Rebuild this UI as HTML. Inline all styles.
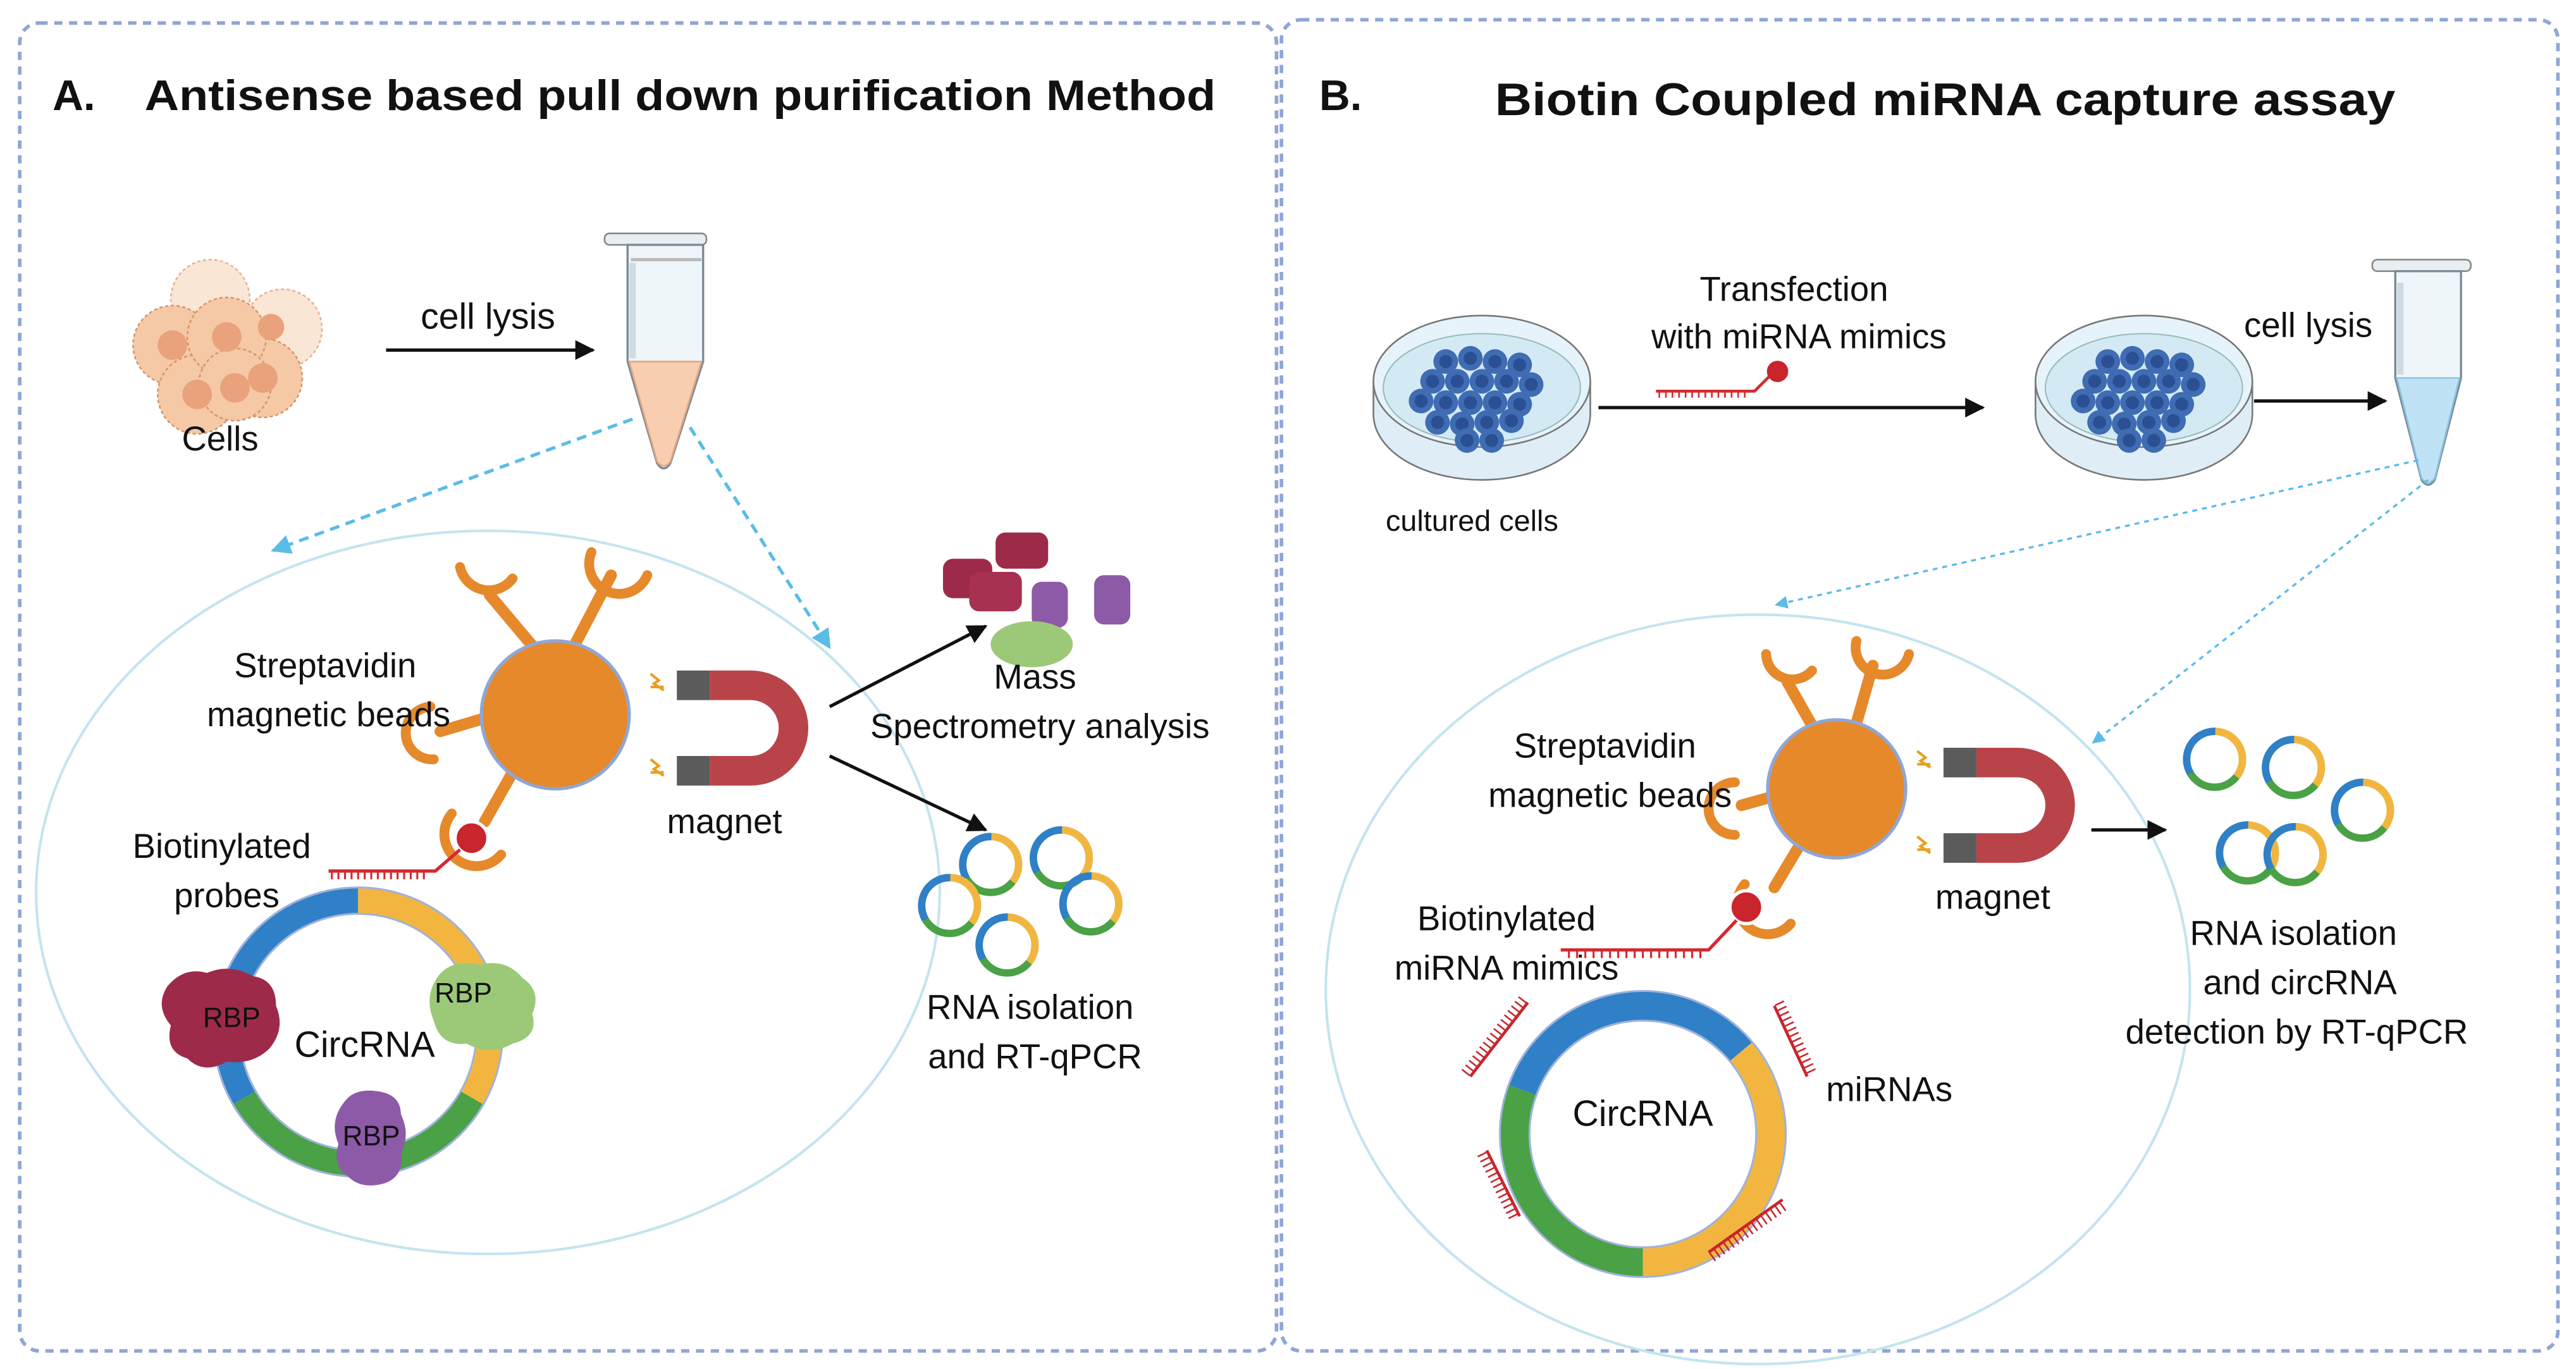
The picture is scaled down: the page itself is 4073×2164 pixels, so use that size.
<!DOCTYPE html>
<html><head><meta charset="utf-8"><style>
html,body{margin:0;padding:0;background:#fff;width:4073px;height:2164px;overflow:hidden}
svg{display:block}
text{font-family:"Liberation Sans",sans-serif;fill:#111}
</style></head><body>
<svg width="4073" height="2164" viewBox="0 0 1568 833" preserveAspectRatio="none" xmlns="http://www.w3.org/2000/svg">
<defs>
<marker id="ah" viewBox="0 0 10 10" refX="9" refY="5" markerWidth="6" markerHeight="6" orient="auto"><path d="M0,0 L10,5 L0,10 z" fill="#111"/></marker>
<marker id="ab" viewBox="0 0 10 10" refX="9" refY="5" markerWidth="6" markerHeight="6" orient="auto"><path d="M0,0 L10,5 L0,10 z" fill="#5bbce8"/></marker>
<g id="ring">
<circle r="17" fill="none" stroke="#4aa146" stroke-width="4.5"/>
<circle r="17" fill="none" stroke="#f2b640" stroke-width="4.5" stroke-dasharray="38 200" transform="rotate(-90)"/>
<circle r="17" fill="none" stroke="#2f80c6" stroke-width="4.5" stroke-dasharray="36 200" transform="rotate(150)"/>
</g>
<g id="mag">
<path d="M20,0 H45 A35,35 0 0 1 45,70 H20 V52 H45 A17,17 0 0 0 45,18 H20 Z" fill="#b8444a"/>
<rect x="0" y="0" width="20" height="18" fill="#5b5b5b"/>
<rect x="0" y="52" width="20" height="18" fill="#5b5b5b"/>
<path d="M-16,2 l5,4 l-3,2 l6,4 M-16,10 l8,0" stroke="#e8a020" stroke-width="1.6" fill="none"/>
<path d="M-16,54 l5,4 l-3,2 l6,4 M-16,62 l8,0" stroke="#e8a020" stroke-width="1.6" fill="none"/>
</g>
<g id="cell"><circle r="7.5" fill="#3f6cb3"/><circle r="4" fill="#2b4f93"/></g>
</defs>

<rect x="12" y="14" width="765" height="808" rx="12" fill="none" stroke="#8fa6d6" stroke-width="2.2" stroke-dasharray="5 4"/>
<rect x="780" y="12" width="777" height="810" rx="12" fill="none" stroke="#8fa6d6" stroke-width="2.2" stroke-dasharray="5 4"/>

<text x="32" y="67" font-size="26" font-weight="bold">A.</text>
<text x="88" y="67" font-size="26" font-weight="bold" textLength="652" lengthAdjust="spacingAndGlyphs">Antisense based pull down purification Method</text>
<text x="803" y="67" font-size="26" font-weight="bold">B.</text>
<text x="910" y="70" font-size="28" font-weight="bold" textLength="548" lengthAdjust="spacingAndGlyphs">Biotin Coupled miRNA capture assay</text>

<!-- ===== Panel A ===== -->
<g stroke="#d9956a" stroke-width="1" stroke-dasharray="2 1.5">
<circle cx="128" cy="182" r="24" fill="#f8dcc4" opacity=".7"/>
<circle cx="172" cy="200" r="24" fill="#f8dcc4" opacity=".7"/>
<circle cx="105" cy="210" r="24" fill="#f5c9a6"/>
<circle cx="160" cy="230" r="24" fill="#f5c9a6"/>
<circle cx="120" cy="240" r="24" fill="#f5c9a6"/>
<circle cx="138" cy="205" r="24" fill="#f5c9a6"/>
<circle cx="143" cy="234" r="22" fill="#f5c9a6"/>
</g>
<g fill="#e9a27c"><circle cx="105" cy="210" r="9"/><circle cx="160" cy="230" r="9"/><circle cx="120" cy="240" r="9"/><circle cx="138" cy="205" r="9"/><circle cx="143" cy="236" r="9"/><circle cx="165" cy="199" r="8"/></g>
<text x="134" y="274" font-size="21" text-anchor="middle">Cells</text>
<text x="297" y="200" font-size="22" text-anchor="middle">cell lysis</text>
<line x1="235" y1="213" x2="361" y2="213" stroke="#111" stroke-width="2" marker-end="url(#ah)"/>
<rect x="368" y="142" width="62" height="7" rx="3" fill="#e8eef2" stroke="#888"/>
<path d="M382,149 H428 V220 L408,282 Q404,288 400,282 L382,220 Z" fill="#eef6fa" stroke="#7a8a95" stroke-width="1.3"/>
<path d="M383,220 H427 L408,281 Q404,286 400,281 Z" fill="#f8cdb0" stroke="#e0a884"/>
<line x1="384" y1="158" x2="427" y2="158" stroke="#bbb" stroke-width="2"/>
<line x1="385" y1="160" x2="385" y2="218" stroke="#cfdbe3" stroke-width="4"/>
<line x1="385" y1="255" x2="166" y2="335" stroke="#5bbce8" stroke-width="2" stroke-dasharray="6 4" marker-end="url(#ab)"/>
<line x1="420" y1="260" x2="505" y2="394" stroke="#5bbce8" stroke-width="2" stroke-dasharray="6 4" marker-end="url(#ab)"/>
<ellipse cx="297" cy="543" rx="275" ry="220" fill="none" stroke="#c3e4ef" stroke-width="1.6"/>
<g stroke="#e5892b" stroke-width="7" stroke-linecap="round" fill="none">
<line x1="330" y1="400" x2="298" y2="362"/>
<line x1="350" y1="392" x2="372" y2="350"/>
<line x1="295" y1="437" x2="268" y2="445"/>
<line x1="312" y1="470" x2="295" y2="500"/>
</g>
<g fill="none" stroke="#e5892b" stroke-width="6" stroke-linecap="round">
<path d="M280,345 A18,18 0 0 0 312,352"/>
<path d="M360,336 A18,18 0 0 0 394,350"/>
<path d="M262,430 A15,15 0 0 0 264,462"/>
<path d="M275,495 A18,18 0 0 0 305,520"/>
</g>
<circle cx="338" cy="435" r="45" fill="#e5892b" stroke="#8fa6d6" stroke-width="2"/>
<text x="198" y="412" font-size="21" text-anchor="middle">Streptavidin</text>
<text x="200" y="442" font-size="21" text-anchor="middle">magnetic beads</text>
<use href="#mag" x="412" y="408"/>
<text x="441" y="507" font-size="21" text-anchor="middle">magnet</text>
<circle cx="287" cy="510" r="10" fill="#c9252c" stroke="#fff" stroke-width="2"/>
<path d="M280,517 L265,530 H200" stroke="#d42a30" stroke-width="2" fill="none"/>
<path d="M202,530 v5 M206,530 v5 M210,530 v5 M214,530 v5 M218,530 v5 M222,530 v5 M226,530 v5 M230,530 v5 M234,530 v5 M238,530 v5 M242,530 v5 M246,530 v5 M250,530 v5 M254,530 v5 M258,530 v5" stroke="#d42a30" stroke-width="1.2"/>
<text x="135" y="522" font-size="21" text-anchor="middle">Biotinylated</text>
<text x="138" y="552" font-size="21" text-anchor="middle">probes</text>
<g fill="none" stroke-width="16">
<path d="M148.7,668 A80,80 0 0 1 218,548" stroke="#2f80c6"/>
<path d="M218,548 A80,80 0 0 1 287.3,668" stroke="#f2b640"/>
<path d="M287.3,668 A80,80 0 0 1 148.7,668" stroke="#4aa146"/>
</g>
<circle cx="218" cy="628" r="88" fill="none" stroke="#9fb2dc" stroke-width="1.2"/>
<circle cx="218" cy="628" r="72" fill="none" stroke="#9fb2dc" stroke-width="1.2"/>
<path d="M102,600 q10,-12 24,-8 q14,-6 28,2 q14,2 14,18 q6,14 -4,26 q-10,10 -26,8 q-14,8 -24,-2 q-14,-4 -10,-20 q-10,-12 -2,-24 z" fill="#9e2a4a"/>
<text x="141" y="625" font-size="17" text-anchor="middle">RBP</text>
<path d="M266,595 q8,-12 26,-8 q16,-4 26,8 q12,8 6,22 q4,14 -12,18 q-14,8 -28,0 q-16,2 -20,-14 q-6,-14 2,-26 z" fill="#9cc978"/>
<text x="282" y="610" font-size="17" text-anchor="middle">RBP</text>
<path d="M210,670 q6,-8 20,-6 q14,2 14,14 q6,12 0,24 q2,14 -10,18 q-14,4 -22,-4 q-10,-6 -6,-20 q-6,-14 4,-26 z" fill="#8d5aa8"/>
<text x="226" y="697" font-size="17" text-anchor="middle">RBP</text>
<text x="222" y="643" font-size="22" text-anchor="middle">CircRNA</text>
<line x1="505" y1="430" x2="600" y2="381" stroke="#111" stroke-width="2" marker-end="url(#ah)"/>
<line x1="505" y1="460" x2="600" y2="505" stroke="#111" stroke-width="2" marker-end="url(#ah)"/>
<rect x="606" y="324" width="32" height="22" rx="6" fill="#9e2a4a"/>
<rect x="574" y="340" width="30" height="24" rx="6" fill="#9e2a4a"/>
<rect x="590" y="348" width="32" height="24" rx="6" fill="#a83050"/>
<rect x="628" y="354" width="22" height="28" rx="6" fill="#8d5aa8"/>
<rect x="666" y="350" width="22" height="30" rx="6" fill="#8d5aa8"/>
<ellipse cx="628" cy="392" rx="25" ry="14" fill="#9cc978"/>
<text x="630" y="419" font-size="21" text-anchor="middle">Mass</text>
<text x="633" y="449" font-size="21" text-anchor="middle">Spectrometry analysis</text>
<use href="#ring" x="603" y="526"/><use href="#ring" x="646" y="522"/>
<use href="#ring" x="578" y="551"/><use href="#ring" x="664" y="550"/><use href="#ring" x="613" y="575"/>
<text x="627" y="620" font-size="21" text-anchor="middle">RNA isolation</text>
<text x="630" y="650" font-size="21" text-anchor="middle">and RT-qPCR</text>

<!-- ===== Panel B ===== -->
<g id="dish">
<ellipse cx="902" cy="252" rx="66" ry="40" fill="#dfeef6" stroke="#777" stroke-width="1"/>
<rect x="836" y="232" width="132" height="20" fill="#dfeef6"/>
<line x1="836" y1="232" x2="836" y2="252" stroke="#777"/><line x1="968" y1="232" x2="968" y2="252" stroke="#777"/>
<ellipse cx="902" cy="232" rx="66" ry="40" fill="#e6f3fa" stroke="#777" stroke-width="1"/>
<ellipse cx="902" cy="236" rx="60" ry="33" fill="#d3eaf5" stroke="#9bb" stroke-width=".8"/>
<g>
<use href="#cell" x="880" y="220"/><use href="#cell" x="895" y="218"/><use href="#cell" x="910" y="220"/><use href="#cell" x="925" y="222"/>
<use href="#cell" x="872" y="232"/><use href="#cell" x="887" y="232"/><use href="#cell" x="902" y="232"/><use href="#cell" x="917" y="232"/><use href="#cell" x="932" y="234"/>
<use href="#cell" x="865" y="244"/><use href="#cell" x="880" y="245"/><use href="#cell" x="895" y="245"/><use href="#cell" x="910" y="245"/><use href="#cell" x="925" y="246"/>
<use href="#cell" x="875" y="257"/><use href="#cell" x="890" y="258"/><use href="#cell" x="905" y="257"/><use href="#cell" x="920" y="256"/>
<use href="#cell" x="893" y="268"/><use href="#cell" x="908" y="268"/>
</g>
</g>
<use href="#dish" x="403" y="0"/>
<text x="896" y="323" font-size="18" text-anchor="middle">cultured cells</text>
<text x="1092" y="183" font-size="21" text-anchor="middle">Transfection</text>
<text x="1095" y="212" font-size="21" text-anchor="middle">with miRNA mimics</text>
<path d="M1008,238 H1068 L1078,228" stroke="#d42a30" stroke-width="1.8" fill="none"/>
<path d="M1010,238 v4 M1014,238 v4 M1018,238 v4 M1022,238 v4 M1026,238 v4 M1030,238 v4 M1034,238 v4 M1038,238 v4 M1042,238 v4 M1046,238 v4 M1050,238 v4 M1054,238 v4 M1058,238 v4 M1062,238 v4" stroke="#d42a30" stroke-width="1"/>
<circle cx="1082" cy="226" r="6.5" fill="#c9252c"/>
<line x1="973" y1="248" x2="1207" y2="248" stroke="#111" stroke-width="2" marker-end="url(#ah)"/>
<text x="1405" y="205" font-size="21" text-anchor="middle">cell lysis</text>
<line x1="1372" y1="244" x2="1452" y2="244" stroke="#111" stroke-width="2" marker-end="url(#ah)"/>
<rect x="1444" y="158" width="60" height="7" rx="3" fill="#e8eef2" stroke="#888"/>
<path d="M1458,165 H1498 V230 L1482,292 Q1478,298 1474,292 L1458,230 Z" fill="#eef6fa" stroke="#7a8a95" stroke-width="1.3"/>
<path d="M1459,230 H1497 L1482,291 Q1478,296 1474,291 Z" fill="#bfe3f5" stroke="#8cc6e4"/>
<line x1="1461" y1="172" x2="1461" y2="228" stroke="#cfdbe3" stroke-width="4"/>
<line x1="1472" y1="280" x2="1081" y2="368" stroke="#5bbce8" stroke-width="1.3" stroke-dasharray="3 3" marker-end="url(#ab)"/>
<line x1="1478" y1="292" x2="1274" y2="452" stroke="#5bbce8" stroke-width="1.3" stroke-dasharray="3 3" marker-end="url(#ab)"/>
<ellipse cx="1070" cy="602" rx="263" ry="228" fill="none" stroke="#c3e4ef" stroke-width="1.6"/>
<g stroke="#e5892b" stroke-width="7" stroke-linecap="round" fill="none">
<line x1="1105" y1="445" x2="1088" y2="415"/>
<line x1="1130" y1="440" x2="1140" y2="405"/>
<line x1="1078" y1="485" x2="1060" y2="490"/>
<line x1="1095" y1="515" x2="1080" y2="540"/>
</g>
<g fill="none" stroke="#e5892b" stroke-width="6" stroke-linecap="round">
<path d="M1075,398 A16,16 0 0 0 1103,408"/>
<path d="M1130,390 A16,16 0 0 0 1162,398"/>
<path d="M1056,476 A14,14 0 0 0 1056,508"/>
<path d="M1062,538 A16,16 0 0 0 1090,562"/>
</g>
<circle cx="1118" cy="480" r="42" fill="#e5892b" stroke="#8fa6d6" stroke-width="2"/>
<text x="977" y="461" font-size="21" text-anchor="middle">Streptavidin</text>
<text x="980" y="491" font-size="21" text-anchor="middle">magnetic beads</text>
<use href="#mag" x="1183" y="455"/>
<text x="1213" y="553" font-size="21" text-anchor="middle">magnet</text>
<line x1="1273" y1="505" x2="1318" y2="505" stroke="#111" stroke-width="2" marker-end="url(#ah)"/>
<use href="#ring" x="1348" y="462"/><use href="#ring" x="1396" y="467"/><use href="#ring" x="1438" y="493"/>
<use href="#ring" x="1368" y="519"/><use href="#ring" x="1397" y="520"/>
<text x="1396" y="575" font-size="21" text-anchor="middle">RNA isolation</text>
<text x="1400" y="605" font-size="21" text-anchor="middle">and circRNA</text>
<text x="1398" y="635" font-size="21" text-anchor="middle">detection by RT-qPCR</text>
<circle cx="1063" cy="552" r="10" fill="#c9252c" stroke="#fff" stroke-width="2"/>
<path d="M1057,560 L1040,578 H950" stroke="#d42a30" stroke-width="2" fill="none"/>
<path d="M955,578 v5 M960,578 v5 M965,578 v5 M970,578 v5 M975,578 v5 M980,578 v5 M985,578 v5 M990,578 v5 M995,578 v5 M1000,578 v5 M1005,578 v5 M1010,578 v5 M1015,578 v5 M1020,578 v5 M1025,578 v5 M1030,578 v5 M1035,578 v5" stroke="#d42a30" stroke-width="1.2"/>
<text x="917" y="566" font-size="21" text-anchor="middle">Biotinylated</text>
<text x="917" y="596" font-size="21" text-anchor="middle">miRNA mimics</text>
<g fill="none" stroke-width="18">
<path d="M926.7,663.3 A78,78 0 0 1 1059.8,639.9" stroke="#2f80c6"/>
<path d="M1059.8,639.9 A78,78 0 0 1 1000,768" stroke="#f2b640"/>
<path d="M1000,768 A78,78 0 0 1 926.7,663.3" stroke="#4aa146"/>
</g>
<circle cx="1000" cy="690" r="87" fill="none" stroke="#9fb2dc" stroke-width="1.2"/>
<circle cx="1000" cy="690" r="69" fill="none" stroke="#9fb2dc" stroke-width="1.2"/>
<text x="1000" y="685" font-size="22" text-anchor="middle">CircRNA</text>
<g stroke="#c9252c" stroke-width="1.8">
<line x1="895" y1="655" x2="930" y2="610"/>
<line x1="1080" y1="612" x2="1100" y2="655"/>
<line x1="905" y1="700" x2="925" y2="740"/>
<line x1="1040" y1="762" x2="1085" y2="730"/>
</g>
<g stroke="#c9252c" stroke-dasharray="1 2.5">
<line x1="892" y1="653" x2="927" y2="608" stroke-width="6"/>
<line x1="1083" y1="610" x2="1103" y2="653" stroke-width="6"/>
<line x1="902" y1="702" x2="922" y2="742" stroke-width="6"/>
<line x1="1042" y1="765" x2="1087" y2="733" stroke-width="6"/>
</g>
<text x="1150" y="670" font-size="21" text-anchor="middle">miRNAs</text>
</svg>
</body></html>
